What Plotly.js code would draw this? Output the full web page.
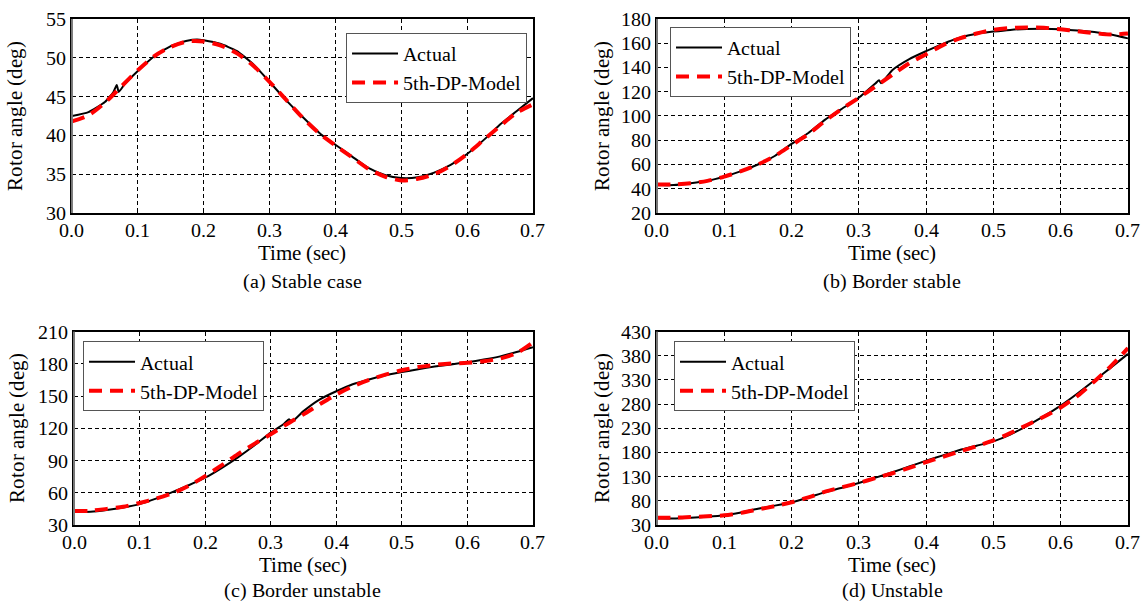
<!DOCTYPE html>
<html><head><meta charset="utf-8">
<script src="https://cdn.plot.ly/plotly-3.0.1.min.js"></script>
<style>
@font-face{font-family:"PaperSerif";src:local("Liberation Serif"),local("LiberationSerif"),local("LiberationSerif-Regular"),local("DejaVu Serif"),local("DejaVuSerif");}
html,body{margin:0;padding:0;background:#fff}
#chart{width:1142px;height:603px}
svg text{font-family:"PaperSerif","Liberation Serif",serif !important;}
</style>
</head><body><div id="chart"></div>
<script>
// ---- data ----
const time = [0,0.025,0.05,0.075,0.1,0.125,0.15,0.175,0.2,0.225,0.25,0.275,0.3,0.325,0.35,0.375,0.4,0.425,0.45,0.475,0.5,0.525,0.55,0.575,0.6,0.625,0.65,0.675,0.7];

// (a) Stable case
const timeActualA = [0,0.025,0.05,0.063,0.068,0.071,0.08,0.1,0.125,0.15,0.175,0.19,0.2,0.225,0.25,0.275,0.3,0.32,0.35,0.38,0.4,0.425,0.45,0.475,0.5,0.525,0.55,0.575,0.6,0.633,0.65,0.675,0.7];
const actualA = [42.5,43.0,44.3,45.6,46.5,45.6,46.6,48.3,50.2,51.5,52.2,52.35,52.25,51.8,50.9,49.2,46.9,45.0,42.4,40.0,38.8,37.3,35.8,34.9,34.5,34.6,35.2,36.2,37.6,40.0,41.4,43.1,44.8];
const modelA = [41.8,42.6,44.2,46.3,48.4,50.2,51.4,52.1,52.1,51.6,50.6,49.0,46.9,44.6,42.3,40.3,38.7,37.2,35.7,34.7,34.2,34.4,35.0,36.1,37.6,39.4,41.2,42.9,44.0];

// (b) Border stable
const timeActualB = [0,0.025,0.05,0.075,0.1,0.125,0.15,0.175,0.2,0.225,0.25,0.275,0.3,0.325,0.33,0.333,0.35,0.375,0.4,0.425,0.45,0.475,0.5,0.525,0.55,0.575,0.6,0.625,0.65,0.675,0.7];
const actualB = [43,43,44.5,46.5,50,54.5,60,67,77,86,97,106,115,127,129.5,127,138,147,153.5,159.5,164.5,167.8,169.6,171,171.8,172,171.5,170.5,169.3,167.2,164];
const modelB = [43.5,43.5,44.5,46.5,50,54.5,60,67,76,85,96,106,115,124.5,134,143.5,151,158.5,164,168,171,172.5,173,172.8,171.5,170,168.3,167.2,168];

// (c) Border unstable
const timeActualC = [0,0.025,0.05,0.075,0.1,0.125,0.15,0.175,0.2,0.225,0.25,0.275,0.3,0.32,0.328,0.332,0.35,0.375,0.4,0.425,0.45,0.475,0.5,0.525,0.55,0.575,0.6,0.625,0.65,0.675,0.7];
const actualC = [42,42.3,44,46.3,49.4,54.5,60.6,67,74,83,93,104,116,124,128.5,126,136,147,154.5,161,165.5,169.5,172.3,175,177.5,179.5,181.5,184,187,191,195.5];
const modelC = [43,43.2,45,47,50.5,54.5,59.5,66.5,75.5,85.5,96,105.5,114.5,124,133,142.5,151.5,159,165,170,174,177,179,180.3,181,182.5,185,190,200];

// (d) Unstable
const actualD = [44,43.5,45,47,50,56,63.5,70,77,87,98,107,117,128,139,151,163,174,185,194,203,217,235,255,277,302,329,356,384];
const modelD = [45,45,46.5,48,50,55,62,69,77,87,99,108,117,127,137,148,160,171,182,193,205,220,237,254,273,297,327,359,396];

const xTicks = [0,0.1,0.2,0.3,0.4,0.5,0.6,0.7];
const yRangeA = [30,55], yRangeB = [20,180], yRangeC = [30,210], yRangeD = [30,430];
const yStepA = 5, yStepB = 20, yStepC = 30, yStepD = 50;
const captions = ['(a) Stable case','(b) Border stable','(c) Border unstable','(d) Unstable'];
const seriesNames = ['Actual','5th-DP-Model'];

// ---- styling ----
const FONT = 'PaperSerif';
const panels = [
  {tA: timeActualA, act: actualA, mod: modelA, yr: yRangeA, dy: yStepA, xd:[0.063,0.4667], yd:[0.6468,0.9685], lg:{x:0.4615,y:0.9453,xanchor:'right'}, ys:18},
  {tA: timeActualB, act: actualB, mod: modelB, yr: yRangeB, dy: yStepB, xd:[0.5753,0.9877], yd:[0.6468,0.9685], lg:{x:0.5867,y:0.9552,xanchor:'left'}, ys:6},
  {tA: timeActualC, act: actualC, mod: modelC, yr: yRangeC, dy: yStepC, xd:[0.0648,0.4667], yd:[0.1294,0.4500], lg:{x:0.0727,y:0.4340,xanchor:'left'}, ys:8},
  {tA: time, act: actualD, mod: modelD, yr: yRangeD, dy: yStepD, xd:[0.5753,0.9877], yd:[0.1294,0.4500], lg:{x:0.5902,y:0.4340,xanchor:'left'}, ys:6}
];

const data = [];
const layout = {
  width:1142, height:603, margin:{l:0,r:0,t:0,b:0},
  paper_bgcolor:'#fff', plot_bgcolor:'#fff', showlegend:true,
  font:{family:FONT, color:'#000'},
  annotations:[], shapes:[]
};
const capX = [0.2648, 0.7815, 0.2648, 0.7815];
const capY = [0.534, 0.534, 0.0, 0.0];
const capAnchor = ['middle','middle','bottom','bottom'];

panels.forEach((p,i)=>{
  const n = i===0 ? '' : String(i+1);
  const xa = 'x'+n, ya = 'y'+n, lgName = 'legend'+n;
  data.push({x:p.tA, y:p.act, type:'scatter', mode:'lines', name:seriesNames[0], xaxis:xa, yaxis:ya, legend:lgName,
    line:{color:'#000', width:2, shape:'spline', smoothing:0.5}});
  data.push({x:time, y:p.mod, type:'scatter', mode:'lines', name:seriesNames[1], xaxis:xa, yaxis:ya, legend:lgName,
    line:{color:'#ff0000', width:4, dash:'13px,8px', shape:'spline', smoothing:0.8}});
  layout['xaxis'+n] = {
    domain:p.xd, anchor:ya, range:[0,0.7], tickvals:xTicks, tickformat:'.1f',
    showgrid:true, gridcolor:'#000', gridwidth:1, griddash:'4px,3px',
    showline:true, linecolor:'#000', linewidth:2, mirror:true,
    ticks:'inside', ticklen:4, tickcolor:'#000', zeroline:false, ticklabelstandoff:-2,
    tickfont:{family:FONT, size:20, color:'#000'},
    title:{text:'Time (sec)', font:{family:FONT, size:21, color:'#000'}, standoff:0}
  };
  layout['yaxis'+n] = {
    domain:p.yd, anchor:xa, range:p.yr, dtick:p.dy, tick0:p.yr[0],
    showgrid:true, gridcolor:'#000', gridwidth:1, griddash:'4px,3px',
    showline:true, linecolor:'#000', linewidth:2, mirror:true,
    ticks:'inside', ticklen:4, tickcolor:'#000', zeroline:false,
    tickfont:{family:FONT, size:20, color:'#000'},
    title:{text:'Rotor angle (deg)', font:{family:FONT, size:21, color:'#000'}, standoff:p.ys}
  };
  layout[lgName] = {x:p.lg.x, y:p.lg.y, xanchor:p.lg.xanchor, yanchor:'top', xref:'paper', yref:'paper',
    bgcolor:'#fff', bordercolor:'#555', borderwidth:1, itemwidth:46,
    font:{family:FONT, size:20, color:'#000'}, tracegroupgap:0};
  layout.shapes.push({type:'line', xref:xa+' domain', yref:ya+' domain', x0:0, x1:0, y0:0, y1:1, line:{color:'#777', width:2}});
  layout.annotations.push({text:captions[i], xref:'paper', yref:'paper', x:capX[i], y:capY[i], xanchor:'center', yanchor:capAnchor[i],
    showarrow:false, font:{family:FONT, size:20, color:'#000'}});
});

function draw(){ Plotly.newPlot('chart', data, layout, {displayModeBar:false}); }
if (document.fonts && document.fonts.load) {
  document.fonts.load('20px "PaperSerif"').then(draw, draw);
} else { draw(); }
</script>
</body></html>
